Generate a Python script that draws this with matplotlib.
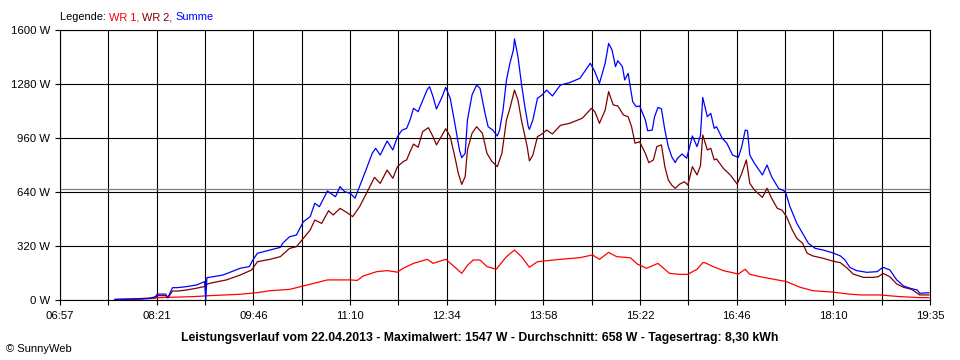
"""
SunnyWeb daily power curve (22.04.2013) for two inverters and their sum.
Writes out.png (960x360).
"""
import numpy as np
import matplotlib
matplotlib.use("Agg")
import matplotlib.pyplot as plt

plt.rcParams["font.family"] = ["Liberation Sans", "DejaVu Sans"]

DAY_START = "06:57"
DAY_END = "19:35"
TIME_LABELS = ["06:57", "08:21", "09:46", "11:10", "12:34", "13:58", "15:22", "16:46", "18:10", "19:35"]
Y_TICKS = [0, 320, 640, 960, 1280, 1600]
AVERAGE_W = 658

# Summe (blue)
SUM_TIMES = [
    "07:45", "07:58", "08:07", "08:15", "08:20", "08:22", "08:29", "08:31", "08:35", "08:39",
    "08:46", "08:56", "09:03", "09:04", "09:05", "09:19", "09:34", "09:42", "09:45", "09:49",
    "10:00", "10:09", "10:11", "10:17", "10:23", "10:29", "10:35", "10:39", "10:43", "10:50",
    "10:57", "11:01", "11:05", "11:10", "11:14", "11:18", "11:23", "11:29", "11:32", "11:36",
    "11:42", "11:47", "11:51", "11:55", "11:59", "12:02", "12:05", "12:09", "12:12", "12:17",
    "12:19", "12:22", "12:25", "12:30", "12:33", "12:37", "12:41", "12:45", "12:47", "12:50",
    "12:52", "12:56", "13:00", "13:03", "13:07", "13:10", "13:14", "13:18", "13:20", "13:23",
    "13:26", "13:29", "13:32", "13:33", "13:36", "13:39", "13:42", "13:45", "13:46", "13:49",
    "13:53", "13:57", "14:01", "14:06", "14:13", "14:21", "14:30", "14:34", "14:39", "14:43",
    "14:47", "14:52", "14:55", "14:58", "15:01", "15:03", "15:07", "15:09", "15:12", "15:16",
    "15:19", "15:22", "15:27", "15:29", "15:33", "15:35", "15:38", "15:41", "15:44", "15:47",
    "15:50", "15:53", "15:55", "15:59", "16:03", "16:06", "16:08", "16:12", "16:15", "16:17",
    "16:21", "16:24", "16:27", "16:29", "16:34", "16:38", "16:43", "16:48", "16:51", "16:54",
    "16:56", "16:58", "17:02", "17:09", "17:13", "17:17", "17:23", "17:29", "17:33", "17:39",
    "17:44", "17:49", "17:55", "18:02", "18:10", "18:17", "18:21", "18:25", "18:31", "18:40",
    "18:49", "18:54", "19:00", "19:06", "19:12", "19:18", "19:24", "19:26", "19:34",
]
SUM_W = [
    4, 5, 8, 9, 20, 35, 35, 15, 73, 73,
    78, 89, 109, 0, 132, 148, 188, 198, 237, 277,
    296, 312, 336, 375, 385, 464, 494, 573, 553, 646,
    612, 672, 642, 632, 603, 672, 760, 869, 899, 859,
    942, 889, 968, 1007, 1017, 1067, 1136, 1116, 1165, 1248,
    1264, 1205, 1132, 1205, 1260, 1195, 1047, 889, 843, 869,
    1067, 1215, 1274, 1254, 1116, 1027, 1007, 972, 1007, 1126,
    1304, 1403, 1481, 1547, 1442, 1284, 1146, 1027, 1011, 1067,
    1195, 1215, 1244, 1209, 1274, 1288, 1314, 1353, 1403, 1353,
    1284, 1403, 1521, 1481, 1383, 1418, 1383, 1304, 1343, 1175,
    1146, 1150, 1067, 1003, 1007, 1086, 1141, 1133, 1007, 909,
    849, 814, 840, 865, 840, 919, 972, 909, 975, 1200,
    1086, 1106, 1017, 1027, 958, 929, 859, 845, 909, 1007,
    1003, 859, 810, 741, 800, 731, 662, 642, 553, 454,
    395, 336, 306, 296, 280, 261, 237, 194, 174, 164,
    168, 194, 178, 119, 83, 69, 59, 40, 43,
]

# WR 2 (dark red)
WR2_TIMES = [
    "07:45", "08:07", "08:20", "08:22", "08:29", "08:31", "08:35", "08:39", "08:46", "08:56",
    "09:03", "09:05", "09:08", "09:22", "09:34", "09:44", "09:49", "10:00", "10:09", "10:17",
    "10:23", "10:29", "10:35", "10:39", "10:45", "10:51", "10:55", "11:01", "11:07", "11:12",
    "11:18", "11:24", "11:31", "11:36", "11:42", "11:47", "11:51", "11:56", "11:59", "12:02",
    "12:05", "12:09", "12:13", "12:18", "12:22", "12:25", "12:30", "12:33", "12:37", "12:41",
    "12:44", "12:47", "12:50", "12:52", "12:56", "13:00", "13:05", "13:09", "13:13", "13:18",
    "13:22", "13:26", "13:29", "13:33", "13:36", "13:39", "13:44", "13:46", "13:49", "13:53",
    "13:57", "14:01", "14:06", "14:13", "14:21", "14:32", "14:36", "14:40", "14:43", "14:47",
    "14:52", "14:55", "14:59", "15:03", "15:08", "15:12", "15:15", "15:18", "15:22", "15:27",
    "15:30", "15:34", "15:37", "15:41", "15:44", "15:47", "15:50", "15:53", "15:57", "16:01",
    "16:04", "16:08", "16:12", "16:15", "16:17", "16:21", "16:24", "16:27", "16:29", "16:35",
    "16:41", "16:47", "16:51", "16:55", "16:58", "17:02", "17:09", "17:13", "17:17", "17:22",
    "17:26", "17:30", "17:35", "17:39", "17:44", "17:48", "17:53", "18:02", "18:10", "18:17",
    "18:23", "18:28", "18:37", "18:45", "18:50", "18:54", "19:00", "19:06", "19:12", "19:19",
    "19:26", "19:34",
]
WR2_W = [
    3, 5, 12, 26, 26, 12, 53, 53, 58, 70,
    80, 93, 100, 119, 148, 178, 227, 241, 257, 306,
    316, 365, 415, 474, 454, 529, 504, 543, 518, 494,
    553, 632, 727, 691, 770, 721, 790, 820, 830, 879,
    924, 905, 998, 1021, 968, 919, 978, 1015, 968, 849,
    751, 685, 731, 889, 988, 1027, 988, 869, 824, 790,
    869, 1067, 1136, 1244, 1185, 1067, 909, 824, 859, 968,
    984, 1007, 984, 1035, 1047, 1077, 1106, 1136, 1116, 1047,
    1126, 1235, 1156, 1150, 1096, 1086, 1027, 929, 938, 869,
    814, 830, 909, 919, 790, 711, 681, 662, 687, 701,
    681, 790, 741, 795, 978, 889, 899, 830, 836, 780,
    741, 687, 751, 830, 691, 652, 608, 662, 603, 543,
    533, 494, 415, 365, 336, 277, 261, 247, 231, 221,
    188, 154, 134, 134, 138, 158, 138, 95, 75, 63,
    30, 30,
]

# WR 1 (red)
WR1_TIMES = [
    "07:45", "08:24", "08:53", "09:08", "09:34", "09:48", "10:00", "10:17", "10:29", "10:50",
    "11:10", "11:16", "11:21", "11:33", "11:42", "11:51", "11:56", "12:05", "12:17", "12:22",
    "12:33", "12:39", "12:47", "12:52", "12:57", "13:03", "13:09", "13:17", "13:26", "13:33",
    "13:39", "13:46", "13:53", "14:13", "14:30", "14:41", "14:47", "14:55", "15:02", "15:14",
    "15:20", "15:28", "15:38", "15:48", "15:57", "16:04", "16:12", "16:17", "16:19", "16:26",
    "16:35", "16:48", "16:54", "16:58", "17:07", "17:22", "17:30", "17:42", "17:53", "18:10",
    "18:23", "18:34", "18:51", "19:09", "19:26", "19:34",
]
WR1_W = [
    2, 14, 20, 26, 34, 43, 55, 63, 83, 119,
    119, 116, 142, 168, 174, 165, 188, 217, 241, 217,
    241, 207, 158, 205, 237, 237, 198, 182, 257, 296,
    257, 194, 227, 241, 251, 267, 241, 282, 257, 250,
    213, 188, 217, 158, 152, 152, 182, 221, 221, 198,
    174, 154, 182, 152, 138, 119, 109, 75, 55, 47,
    36, 30, 30, 20, 14, 14,
]


def to_minutes(t):
    h, m = t.split(":")
    return int(h) * 60 + int(m)


def main():
    fig = plt.figure(figsize=(9.6, 3.6), dpi=100)
    ax = fig.add_axes([60 / 960, 60 / 360, 870 / 960, 270 / 360])

    start, end = to_minutes(DAY_START), to_minutes(DAY_END)
    ax.set_xlim(start, end)
    ax.set_ylim(0, 1600)

    xticks = np.linspace(start, end, 2 * len(TIME_LABELS) - 1)
    ax.set_xticks(xticks)
    ax.set_xticklabels([TIME_LABELS[i // 2] if i % 2 == 0 else "" for i in range(len(xticks))])
    ax.set_yticks(Y_TICKS)
    ax.set_yticklabels([f"{v} W" for v in Y_TICKS])
    ax.tick_params(axis="both", direction="out", length=3.6, width=0.8, color="black",
                   labelsize=8.2, pad=3.5)
    ax.tick_params(axis="x", pad=4.5)
    ax.grid(True, color="black", linewidth=0.8)
    ax.set_axisbelow(True)
    for sp in ax.spines.values():
        sp.set_color("black")
        sp.set_linewidth(0.8)

    ax.axhline(AVERAGE_W, color="#808080", linewidth=0.9, zorder=2)

    ax.plot([to_minutes(t) for t in WR1_TIMES], WR1_W, color="#ff0000", linewidth=0.9, zorder=3)
    ax.plot([to_minutes(t) for t in WR2_TIMES], WR2_W, color="#800000", linewidth=0.9, zorder=4)
    ax.plot([to_minutes(t) for t in SUM_TIMES], SUM_W, color="#0000ff", linewidth=0.9, zorder=5)

    # legend line: coloured words one after another
    renderer = fig.canvas.get_renderer()
    x = 60 / 960
    for text, col in [("Legende: ", "black"), ("WR 1, ", "#ff0000"),
                      ("WR 2, ", "#800000"), ("Summe", "#0000ff")]:
        t = fig.text(x, 343 / 360, text, color=col, fontsize=7.9, va="center", ha="left")
        x = t.get_window_extent(renderer).x1 / fig.bbox.width

    fig.text(0.5, 22 / 360,
             "Leistungsverlauf vom 22.04.2013 - Maximalwert: 1547 W - Durchschnitt: 658 W - Tagesertrag: 8,30 kWh",
             ha="center", va="center", fontsize=8.8, fontweight="bold")
    fig.text(6 / 960, 11 / 360, "© SunnyWeb", ha="left", va="center", fontsize=8)

    fig.savefig("out.png", dpi=100, facecolor="white")
    plt.close(fig)


if __name__ == "__main__":
    main()
